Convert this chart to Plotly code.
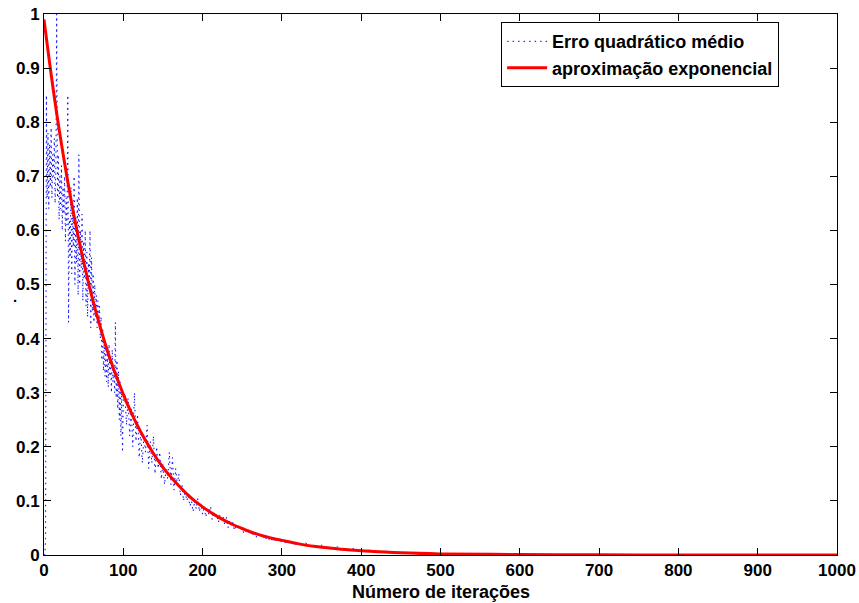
import plotly.graph_objects as go

# Blue: mean squared error (noisy). Part A: x = 0..100 step 1
mse_x_a = list(range(0, 101))
mse_y_a = [
    0.0, 0.0, 0.03, 0.85, 0.66, 0.78, 0.64, 0.76, 0.68, 0.79,
    0.66, 0.74, 0.70, 0.77, 0.65, 0.72, 1.00, 0.66, 0.74, 0.62,
    0.70, 0.64, 0.72, 0.60, 0.68, 0.63, 0.70, 0.58, 0.66, 0.61,
    0.85, 0.43, 0.62, 0.55, 0.68, 0.52, 0.64, 0.57, 0.70, 0.50,
    0.62, 0.54, 0.66, 0.48, 0.74, 0.50, 0.60, 0.53, 0.63, 0.47,
    0.58, 0.51, 0.60, 0.46, 0.56, 0.44, 0.54, 0.49, 0.60, 0.42,
    0.55, 0.45, 0.52, 0.43, 0.50, 0.44, 0.48, 0.42, 0.47, 0.43,
    0.46, 0.40, 0.44, 0.36, 0.42, 0.34, 0.40, 0.33, 0.38, 0.32,
    0.37, 0.31, 0.39, 0.33, 0.36, 0.30, 0.38, 0.32, 0.35, 0.30,
    0.43, 0.29, 0.36, 0.27, 0.34, 0.25, 0.32, 0.22, 0.30, 0.19,
    0.28,
]
# Part B: x = 102..300 step 2
mse_x_b = list(range(102, 302, 2))
mse_y_b = [
    0.30, 0.24, 0.29, 0.22, 0.27, 0.20, 0.30, 0.21, 0.26,
    0.18, 0.23, 0.17, 0.22, 0.19, 0.24, 0.16, 0.21, 0.17, 0.22,
    0.15, 0.20, 0.16, 0.19, 0.14, 0.17, 0.13, 0.16, 0.14, 0.19,
    0.13, 0.18, 0.12, 0.16, 0.13, 0.15, 0.11, 0.13, 0.10, 0.12,
    0.10, 0.11, 0.09, 0.10, 0.08, 0.10, 0.085, 0.105, 0.08, 0.095,
    0.075, 0.09, 0.07, 0.085, 0.075, 0.09, 0.065, 0.08, 0.07, 0.075,
    0.06, 0.075, 0.065, 0.07, 0.055, 0.07, 0.05, 0.065, 0.055, 0.06,
    0.045, 0.055, 0.05, 0.055, 0.045, 0.05, 0.04, 0.045, 0.04, 0.05,
    0.038, 0.045, 0.035, 0.042, 0.033, 0.04, 0.035, 0.038, 0.03, 0.036,
    0.03, 0.034, 0.028, 0.032, 0.026, 0.03, 0.025, 0.029, 0.024, 0.027,
    0.022,
]
# Part C: tail, x = 310..500 step 10 then sparse
mse_x_c = [310, 320, 330, 340, 350, 360, 370, 380, 390, 400,
           410, 420, 430, 440, 450, 460, 470, 480, 490, 500,
           550, 600, 650, 700, 800, 900, 1000]
mse_y_c = [0.025, 0.018, 0.022, 0.015, 0.018, 0.012, 0.015, 0.010, 0.012, 0.008,
           0.009, 0.006, 0.007, 0.005, 0.005, 0.004, 0.004, 0.003, 0.003, 0.002,
           0.002, 0.001, 0.001, 0.0005, 0.0005, 0.0005, 0.0005]

# Red: exponential approximation
exp_x = [0, 10, 20, 30, 40, 50, 60, 70, 80, 90, 100, 110, 120, 130, 140, 150,
         160, 170, 180, 190, 200, 210, 220, 230, 240, 250, 260, 270, 280, 290,
         300, 320, 340, 360, 380, 400, 450, 500, 600, 700, 800, 900, 1000]
exp_y = [0.990, 0.878, 0.778, 0.690, 0.611, 0.542, 0.480, 0.426, 0.377, 0.335,
         0.297, 0.263, 0.233, 0.207, 0.183, 0.162, 0.144, 0.128, 0.113, 0.100,
         0.089, 0.079, 0.070, 0.062, 0.055, 0.049, 0.043, 0.038, 0.034, 0.030,
         0.027, 0.021, 0.016, 0.013, 0.010, 0.008, 0.004, 0.002, 0.001, 0.0003,
         0.0001, 0.0, 0.0]

x_ticks = [0, 100, 200, 300, 400, 500, 600, 700, 800, 900, 1000]
x_tick_labels = ["0", "100", "200", "300", "400", "500", "600", "700", "800", "900", "1000"]
y_ticks = [0, 0.1, 0.2, 0.3, 0.4, 0.5, 0.6, 0.7, 0.8, 0.9, 1]
y_tick_labels = ["0", "0.1", "0.2", "0.3", "0.4", "0.5", "0.6", "0.7", "0.8", "0.9", "1"]
x_title = "Número de iterações"
y_title = "."

FONT = "Liberation Sans"

def bold(s):
    return "<b>" + s + "</b>"

fig = go.Figure()
fig.add_trace(go.Scatter(
    x=mse_x_a + mse_x_b + mse_x_c, y=mse_y_a + mse_y_b + mse_y_c, mode="lines",
    name=bold("Erro quadrático médio"),
    line=dict(color="rgb(0,0,255)", width=1, dash="1.5px,4px"),
))
fig.add_trace(go.Scatter(
    x=exp_x, y=exp_y, mode="lines", line_shape="spline",
    name=bold("aproximação exponencial"),
    line=dict(color="rgb(255,0,0)", width=3),
))

axis_common = dict(
    showline=True, linecolor="black", linewidth=1, mirror="ticks",
    ticks="inside", ticklen=7, tickcolor="black", tickwidth=1,
    showgrid=False, zeroline=False, automargin=False,
    tickfont=dict(family=FONT, size=17, color="black"),
)

fig.update_layout(
    width=859, height=603,
    margin=dict(l=44, r=22, t=14, b=48),
    paper_bgcolor="white", plot_bgcolor="white",
    xaxis=dict(range=[0, 1000], tickvals=x_ticks,
               ticktext=[bold(t) for t in x_tick_labels], **axis_common),
    yaxis=dict(range=[0, 1], tickvals=y_ticks,
               ticktext=[bold(t) for t in y_tick_labels], **axis_common),
    legend=dict(x=0.927, y=0.985, xanchor="right", yanchor="top",
                bgcolor="white", bordercolor="black", borderwidth=1,
                font=dict(family=FONT, size=18, color="black"),
                tracegroupgap=0, itemwidth=40),
    showlegend=True,
    annotations=[
        dict(text=bold(x_title), xref="paper", yref="paper", x=0.5, y=0,
             xanchor="center", yanchor="top", yshift=-25, showarrow=False,
             font=dict(family=FONT, size=18, color="black")),
        dict(text=bold(y_title), xref="paper", yref="paper", x=0, y=0.478,
             xanchor="center", yanchor="middle", xshift=-29, showarrow=False,
             font=dict(family=FONT, size=15, color="black")),
    ],
)

fig.write_html("out.html", config={"displayModeBar": False},
               post_script="document.body.style.margin='0px';")
